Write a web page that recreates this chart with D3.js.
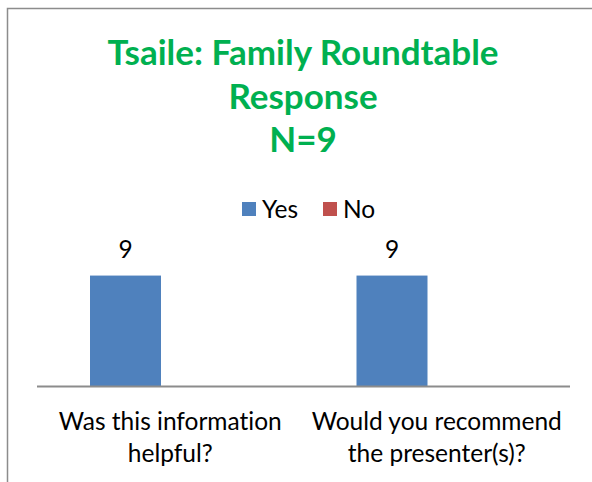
<!DOCTYPE html>
<html>
<head>
<meta charset="utf-8">
<script src="https://cdn.jsdelivr.net/npm/d3@7"></script>
<style>
  html, body { margin: 0; padding: 0; background: #fff; }
  svg { display: block; }
  text { font-variant-ligatures: none; }
</style>
</head>
<body>
<div id="chart"></div>
<script>
const titleLines = ['Tsaile: Family Roundtable', 'Response', 'N=9']
const categoryLines = [
  ['Was this information', 'helpful?'],
  ['Would you recommend', 'the presenter(s)?'],
]
const seriesNames = ['Yes', 'No']
const yesValues = [9, 9]
const noValues = [0, 0]

const w = 592, h = 482
const colors = { Yes: '#4f81bd', No: '#c0504d' }
const font = 'Lato, "Open Sans", sans-serif'

const svg = d3.select('#chart').append('svg')
  .attr('width', w)
  .attr('height', h)

// chart frame (right/bottom edges fall outside the picture)
svg.append('rect')
  .attr('x', 7.5).attr('y', 8.5)
  .attr('width', 620).attr('height', 520)
  .attr('fill', '#fff')
  .attr('stroke', '#8c8c8c')
  .attr('stroke-width', 1.5)

// title
svg.append('g')
  .selectAll('text')
  .data(titleLines)
  .enter()
  .append('text')
  .attr('x', 303)
  .attr('y', (d, i) => 65 + i * 43.5)
  .attr('text-anchor', 'middle')
  .attr('font-family', font)
  .attr('font-weight', 'bold')
  .attr('font-size', '35px')
  .attr('fill', '#00b050')
  .text(d => d)

// legend
const legendX = [242, 323]
const legend = svg.append('g')
  .selectAll('g')
  .data(seriesNames)
  .enter()
  .append('g')
  .attr('transform', (d, i) => `translate(${legendX[i]},202)`)
legend.append('rect')
  .attr('width', 14).attr('height', 14)
  .attr('fill', d => colors[d])
legend.append('text')
  .attr('x', 20).attr('y', 15.5)
  .attr('font-family', font)
  .attr('font-size', '24.5px')
  .attr('fill', '#000')
  .text(d => d)

// scales
const x = d3.scaleBand()
  .domain(categoryLines.map((d, i) => i))
  .range([37, 570])
const xSeries = d3.scaleBand()
  .domain(seriesNames)
  .range([53, 195])
const y = d3.scaleLinear()
  .domain([0, 10])
  .range([386, 263.3])

const data = categoryLines.map((lines, i) => ({
  i, lines,
  values: [
    { name: 'Yes', value: yesValues[i] },
    { name: 'No', value: noValues[i] },
  ]
}))

const groups = svg.append('g')
  .selectAll('g')
  .data(data)
  .enter()
  .append('g')
  .attr('transform', d => `translate(${x(d.i)},0)`)

groups.selectAll('rect')
  .data(d => d.values)
  .enter()
  .append('rect')
  .attr('x', d => xSeries(d.name))
  .attr('y', d => y(d.value))
  .attr('width', xSeries.bandwidth())
  .attr('height', d => y(0) - y(d.value))
  .attr('fill', d => colors[d.name])

groups.selectAll('.label')
  .data(d => d.values.filter(v => v.value > 0))
  .enter()
  .append('text')
  .attr('class', 'label')
  .attr('x', d => xSeries(d.name) + xSeries.bandwidth() / 2)
  .attr('y', d => y(d.value) - 18)
  .attr('text-anchor', 'middle')
  .attr('font-family', font)
  .attr('font-size', '24.5px')
  .attr('fill', '#000')
  .text(d => d.value)

// category axis
svg.append('line')
  .attr('x1', x.range()[0]).attr('x2', x.range()[1])
  .attr('y1', y(0) + 0.5).attr('y2', y(0) + 0.5)
  .attr('stroke', '#8c8c8c')
  .attr('stroke-width', 2)

groups.append('text')
  .attr('text-anchor', 'middle')
  .attr('font-family', font)
  .attr('font-size', '24.5px')
  .attr('fill', '#000')
  .selectAll('tspan')
  .data(d => d.lines)
  .enter()
  .append('tspan')
  .attr('x', x.bandwidth() / 2)
  .attr('y', (d, i) => 430 + i * 31.5)
  .text(d => d)
</script>
</body>
</html>
